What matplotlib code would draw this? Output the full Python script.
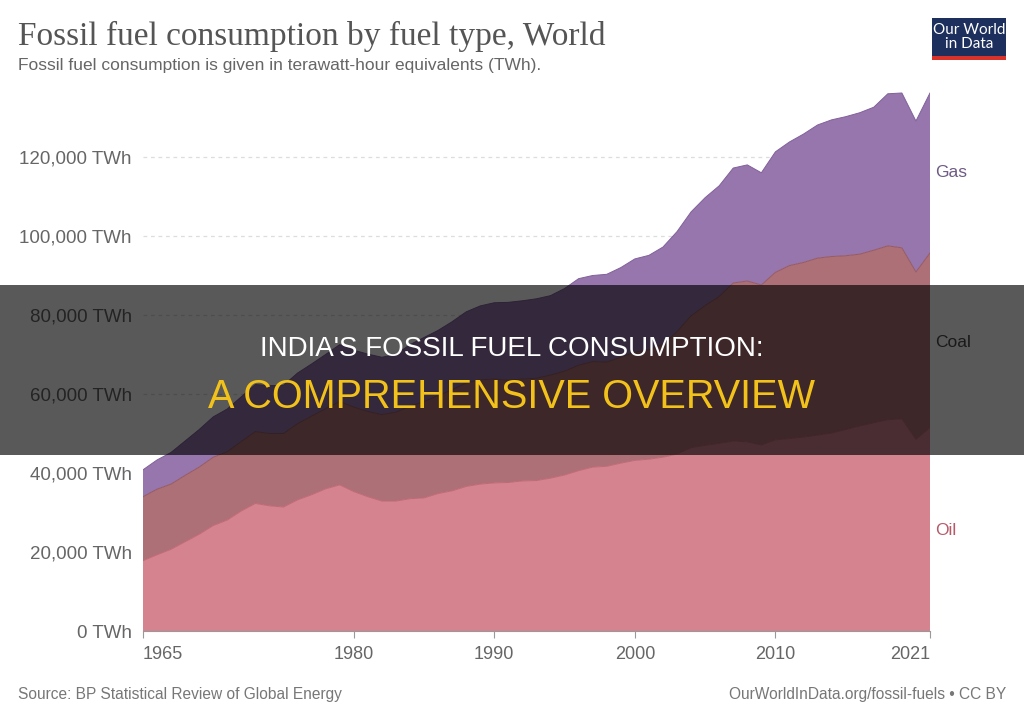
import matplotlib
matplotlib.use("Agg")
import matplotlib.pyplot as plt
from matplotlib.patches import Rectangle
import numpy as np

years = list(range(1965, 2022))

oil = [17800, 19300, 20700, 22600, 24500, 26700, 28100, 30400, 32300, 31700,
       31400, 33200, 34500, 36000, 37000, 35300, 34000, 32900, 32900, 33500,
       33700, 34800, 35500, 36600, 37200, 37500, 37600, 38000, 38100, 38700,
       39500, 40600, 41500, 41700, 42500, 43200, 43500, 44000, 44800, 46400,
       47000, 47500, 48100, 47900, 47100, 48400, 48700, 49100, 49600, 50100,
       51000, 51900, 52700, 53500, 53700, 48500, 51500]

coal = [16200, 16600, 16500, 16800, 17000, 17300, 17300, 17600, 18200, 18300,
        18600, 19300, 19900, 20300, 21100, 21400, 21600, 21900, 22500, 23400,
        24400, 24800, 25600, 26200, 26400, 26300, 25900, 25800, 25900, 26100,
        26300, 26700, 26700, 26400, 26800, 27400, 27700, 28600, 31000, 33400,
        35400, 37200, 40000, 40700, 40500, 42400, 43800, 44200, 44800, 44700,
        44000, 43500, 43700, 44000, 43300, 42400, 44200]

gas = [6800, 7400, 8000, 8700, 9500, 10200, 10800, 11300, 11900, 12100,
       12200, 12800, 13200, 13700, 14400, 14400, 14500, 14500, 14600, 15600,
       16200, 16500, 17200, 18000, 18700, 19300, 19700, 19800, 20100, 20100,
       20900, 21900, 21800, 22200, 22700, 23600, 23900, 24600, 25300, 26300,
       27300, 28000, 29100, 29400, 28400, 30500, 31300, 32500, 33700, 34600,
       35200, 35800, 36200, 38500, 39200, 38200, 40500]

series_names = ["Oil", "Coal", "Gas"]
y_ticks = [0, 20000, 40000, 60000, 80000, 100000, 120000]
x_ticks = [1965, 1980, 1990, 2000, 2010, 2021]

fill_colors = ["#d4838f", "#ae7077", "#9776ad"]
edge_colors = ["#c06874", "#95585f", "#80609a"]
label_colors = ["#b55a68", "#4a4a4a", "#6e5a85"]

fig = plt.figure(figsize=(10.24, 7.22), dpi=100)
ax = fig.add_axes([0.1396, 0.126, 0.7686, 0.766])

x = np.array(years)
base = np.zeros(len(years))
for vals, fc, ec in zip([oil, coal, gas], fill_colors, edge_colors):
    top = base + np.array(vals)
    ax.fill_between(x, base, top, facecolor=fc, edgecolor="none", zorder=2)
    ax.plot(x, top, color=ec, lw=0.7, zorder=3)
    base = top

ax.set_xlim(1965, 2021)
ax.set_ylim(0, 140000)
ax.set_yticks(y_ticks)
ax.set_yticklabels([f"{v:,} TWh" for v in y_ticks], fontsize=13.5,
                   color="#666666", family="Liberation Sans")
ax.set_xticks(x_ticks)
xl = ax.set_xticklabels([str(v) for v in x_ticks], fontsize=13,
                        color="#666666", family="Liberation Sans")
xl[0].set_ha("left")
xl[-1].set_ha("right")
ax.tick_params(axis="y", length=0, pad=8)
ax.tick_params(axis="x", length=5, color="#999999", pad=6)
for s in ["top", "right", "left"]:
    ax.spines[s].set_visible(False)
ax.spines["bottom"].set_color("#999999")
ax.spines["bottom"].set_zorder(5)
for v in y_ticks[1:]:
    ax.axhline(v, color="#dddddd", lw=0.9, ls=(0, (3, 3)), zorder=1)

# series labels at right
label_x = 2021.4
label_y = [25500, 73000, 116000]
for name, yv, c in zip(series_names, label_y, label_colors):
    ax.text(label_x, yv, name, fontsize=12.5, color=c,
            family="Liberation Sans", va="center", ha="left", clip_on=False)

# title and subtitle
fig.text(0.0176, 1 - 45 / 722, "Fossil fuel consumption by fuel type, World",
         fontsize=24, color="#555555", family="Liberation Serif", va="baseline")
fig.text(0.0176, 0.903,
         "Fossil fuel consumption is given in terawatt-hour equivalents (TWh).",
         fontsize=12.5, color="#666666", family="Liberation Sans", va="baseline")

# logo
fig.patches.append(Rectangle((932 / 1024, 1 - 60 / 722), 74 / 1024, 42 / 722,
                             transform=fig.transFigure, facecolor="#1d2f5c",
                             edgecolor="none", zorder=5))
fig.patches.append(Rectangle((932 / 1024, 1 - 60 / 722), 74 / 1024, 4 / 722,
                             transform=fig.transFigure, facecolor="#d8322b",
                             edgecolor="none", zorder=6))
fig.text(969 / 1024, 1 - 37 / 722, "Our World\nin Data", fontsize=11,
         color="white", family="Lato", ha="center", va="center",
         linespacing=0.95, zorder=7)

# footer
fig.text(0.0176, 1 - 695 / 722, "Source: BP Statistical Review of Global Energy",
         fontsize=11.2, color="#777777", family="Liberation Sans", va="center")
fig.text(1 - 18 / 1024, 1 - 695 / 722, "OurWorldInData.org/fossil-fuels \u2022 CC BY",
         fontsize=11.2, color="#777777", family="Liberation Sans", va="center",
         ha="right")

# overlay band
fig.patches.append(Rectangle((0, 1 - 455 / 722), 1, 170 / 722,
                             transform=fig.transFigure, facecolor="black",
                             alpha=0.65, edgecolor="none", zorder=20))
fig.text(0.5, 1 - 349 / 722, "INDIA'S FOSSIL FUEL CONSUMPTION:", fontsize=20,
         color="white", family="Liberation Sans", ha="center", va="center",
         zorder=21)
fig.text(0.5, 1 - 397 / 722, "A COMPREHENSIVE OVERVIEW", fontsize=28.5,
         color="#f2c21b", family="Liberation Sans", ha="center", va="center",
         zorder=21)

fig.savefig("out.png", dpi=100, facecolor="white")
